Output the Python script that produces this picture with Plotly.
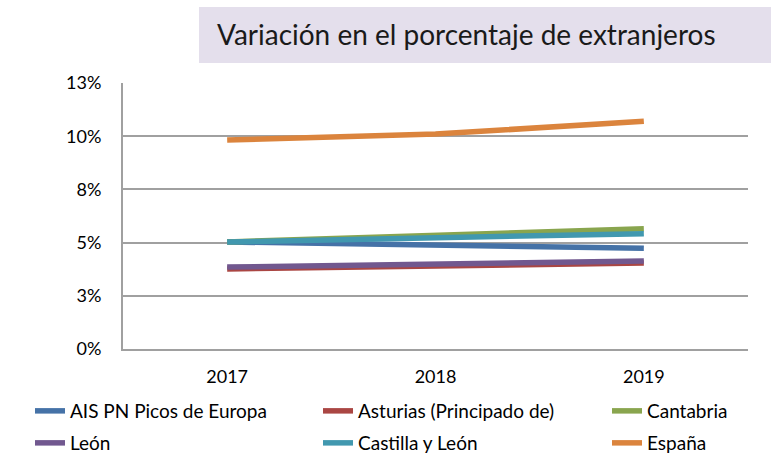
import plotly.graph_objects as go

years = ["2017", "2018", "2019"]
series_names = ["AIS PN Picos de Europa", "Asturias (Principado de)", "Cantabria",
                "León", "Castilla y León", "España"]
ais = [0.0503, 0.0489, 0.0473]
asturias = [0.0376, 0.0388, 0.0404]
cantabria = [0.0503, 0.0536, 0.0565]
leon = [0.0385, 0.0397, 0.0414]
castilla = [0.0503, 0.0522, 0.0542]
espana = [0.0982, 0.1010, 0.1070]
values = [ais, asturias, cantabria, leon, castilla, espana]
colors = ["#4572A7", "#AA4643", "#89A54E", "#71588F", "#4198AF", "#DB843D"]
tick_vals = [0, 0.025, 0.05, 0.075, 0.10, 0.125]
tick_text = ["0%", "3%", "5%", "8%", "10%", "13%"]

FONT = "Lato"
W, H = 771, 454
L, R, T, B = 123, 23, 83, 105
PW, PH = W - L - R, H - T - B

def px_x(p):
    return (p - L) / PW

def px_y(p):
    return (H - B - p) / PH

# legend grid: (text-left px, row center px)
legend_pos = [(30, 411), (318, 411), (607, 411), (30, 443), (318, 443), (607, 443)]

fig = go.Figure()
layout_legends = {}
for i, (name, vals, col) in enumerate(zip(series_names, values, colors)):
    key = "legend" if i == 0 else f"legend{i+1}"
    fig.add_trace(go.Scatter(
        x=years, y=vals, name=name, mode="lines",
        line=dict(color=col, width=5.5),
        legend=key, showlegend=True,
    ))
    lx, ly = legend_pos[i]
    layout_legends[key] = dict(
        orientation="h", xanchor="left", yanchor="middle",
        x=px_x(lx), y=px_y(ly),
        font=dict(family=FONT, size=19, color="#000000"),
        bgcolor="rgba(0,0,0,0)", itemwidth=30,
    )

fig.update_layout(
    width=W, height=H, showlegend=True,
    margin=dict(l=L, r=R, t=T, b=B, autoexpand=False),
    paper_bgcolor="white", plot_bgcolor="white",
    font=dict(family=FONT, size=18, color="#000000"),
    title=dict(text="Variación en el porcentaje de extranjeros",
               xref="container", yref="container", x=217/W, y=1-35/H,
               xanchor="left", yanchor="middle",
               font=dict(family=FONT, size=28, color="#1a1a1a")),
    xaxis=dict(type="category", range=[-0.5, 2.5], showgrid=False,
               showline=True, linecolor="#A0A0A0", linewidth=2,
               ticks="", ticklabelstandoff=10,
               tickfont=dict(family=FONT, size=18), fixedrange=True),
    yaxis=dict(range=[0, 0.125], tickvals=tick_vals, ticktext=tick_text,
               showgrid=True, gridcolor="#A0A0A0", gridwidth=2,
               showline=True, linecolor="#A0A0A0", linewidth=2,
               zeroline=False, ticks="", ticklabelstandoff=16,
               tickfont=dict(family=FONT, size=18)),
    shapes=[dict(type="rect", xref="paper", yref="paper",
                 x0=px_x(199), x1=px_x(771), y0=px_y(63), y1=px_y(7),
                 fillcolor="#E4DFEC", line=dict(width=0), layer="below")],
    **layout_legends,
)
fig.write_html("out.html", config={"displayModeBar": False},
               post_script="document.body.style.margin='0';document.body.style.padding='0';")
